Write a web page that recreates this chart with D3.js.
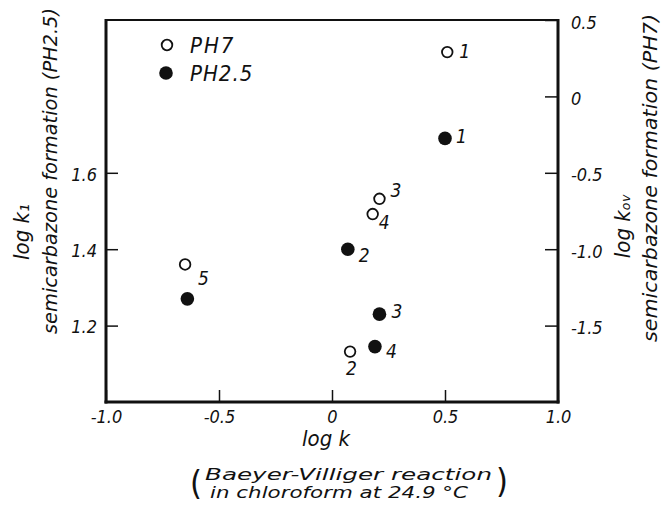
<!DOCTYPE html>
<html>
<head>
<meta charset="utf-8">
<script src="https://cdn.jsdelivr.net/npm/d3@7"></script>
<style>
  html, body { margin: 0; padding: 0; background: #fff; }
  svg { display: block; }
  text { font-family: "DejaVu Sans Condensed", "Liberation Sans Narrow", "Liberation Sans", sans-serif; font-style: italic; fill: #111; }
</style>
</head>
<body>
<svg id="chart" width="665" height="505"></svg>
<script>
// ---- data ----
const compounds = ["1", "2", "3", "4", "5"];
// pH 7 (open circles), read against right axis (log k_ov)
const logK_pH7 = [0.51, 0.08, 0.21, 0.18, -0.65];
const logKov_pH7 = [0.29, -1.67, -0.67, -0.77, -1.10];
const labels_pH7 = ["1", "2", "3", "4", "5"];
// pH 2.5 (filled circles), read against left axis (log k1)
const logK_pH25 = [0.50, 0.07, 0.21, 0.19, -0.64];
const logK1_pH25 = [1.69, 1.40, 1.23, 1.145, 1.27];
const labels_pH25 = ["1", "2", "3", "4", ""];

const xTicks = [-1.0, -0.5, 0, 0.5, 1.0];
const xTickLabels = ["-1.0", "-0.5", "0", "0.5", "1.0"];
const leftTicks = [1.2, 1.4, 1.6];
const leftTickLabels = ["1.2", "1.4", "1.6"];
const rightTicks = [0.5, 0, -0.5, -1.0, -1.5];
const rightTickLabels = ["0.5", "0", "-0.5", "-1.0", "-1.5"];

const legendNames = ["PH7", "PH2.5"];

// ---- layout / style (not data) ----
const L = 106, R = 558, T = 20, B = 402;
const svg = d3.select("#chart");

const x = d3.scaleLinear().domain([-1, 1]).range([L, R]);
const yL = d3.scaleLinear().domain([1.0, 2.0]).range([B, T]);
const yR = d3.scaleLinear().domain([-2.0, 0.5]).range([B, T]);

// label offsets (dx, dy) relative to marker centre
const offs7 = [[12, 6], [-4, 23], [11, -2], [6, 15], [13, 21]];
const offs25 = [[11, 5], [11, 13], [12, 4], [11, 11], [0, 0]];

// axes
const axL = svg.append("g").attr("transform", `translate(${L},0)`)
  .call(d3.axisLeft(yL).tickValues(leftTicks).tickSize(-12).tickPadding(9)
    .tickFormat((d, i) => leftTickLabels[i]));
const axR = svg.append("g").attr("transform", `translate(${R},0)`)
  .call(d3.axisRight(yR).tickValues(rightTicks).tickSize(-13).tickPadding(13)
    .tickFormat((d, i) => rightTickLabels[i]));
const axB = svg.append("g").attr("transform", `translate(0,${B})`)
  .call(d3.axisBottom(x).tickValues(xTicks).tickSize(-12).tickPadding(8)
    .tickFormat((d, i) => xTickLabels[i]));

[axL, axR, axB].forEach(g => {
  g.select(".domain").remove();
  g.attr("font-family", null).attr("font-size", null);
  g.selectAll(".tick line").attr("stroke", "#111").attr("stroke-width", 1.5);
  g.selectAll(".tick text").attr("font-size", 18).attr("fill", "#111");
});
axR.selectAll(".tick text").attr("dy", "0.45em");
axL.selectAll(".tick text").attr("dy", "0.4em");

// frame
svg.append("line").attr("x1", L).attr("x2", R).attr("y1", T).attr("y2", T)
  .attr("stroke", "#111").attr("stroke-width", 2);
svg.append("line").attr("x1", L).attr("x2", L).attr("y1", T - 1).attr("y2", B + 1.5)
  .attr("stroke", "#111").attr("stroke-width", 3);
svg.append("line").attr("x1", R).attr("x2", R).attr("y1", T - 1).attr("y2", B + 1.5)
  .attr("stroke", "#111").attr("stroke-width", 3);
svg.append("line").attr("x1", L - 1.5).attr("x2", R + 1.5).attr("y1", B).attr("y2", B)
  .attr("stroke", "#111").attr("stroke-width", 3);

// points pH7 (open)
const g7 = svg.append("g");
g7.selectAll("circle").data(compounds).join("circle")
  .attr("cx", (d, i) => x(logK_pH7[i]))
  .attr("cy", (d, i) => yR(logKov_pH7[i]))
  .attr("r", 5.3).attr("fill", "#fff").attr("stroke", "#111").attr("stroke-width", 1.8);
g7.selectAll("text").data(compounds).join("text")
  .attr("x", (d, i) => x(logK_pH7[i]) + offs7[i][0])
  .attr("y", (d, i) => yR(logKov_pH7[i]) + offs7[i][1])
  .attr("font-size", 19)
  .text((d, i) => labels_pH7[i]);

// points pH2.5 (filled)
const g25 = svg.append("g");
g25.selectAll("circle").data(compounds).join("circle")
  .attr("cx", (d, i) => x(logK_pH25[i]))
  .attr("cy", (d, i) => yL(logK1_pH25[i]))
  .attr("r", 6.8).attr("fill", "#111");
g25.selectAll("text").data(compounds).join("text")
  .attr("x", (d, i) => x(logK_pH25[i]) + offs25[i][0])
  .attr("y", (d, i) => yL(logK1_pH25[i]) + offs25[i][1])
  .attr("font-size", 19)
  .text((d, i) => labels_pH25[i]);

// legend
const leg = svg.append("g");
leg.append("circle").attr("cx", 167).attr("cy", 45).attr("r", 5.3)
  .attr("fill", "#fff").attr("stroke", "#111").attr("stroke-width", 1.8);
leg.append("circle").attr("cx", 166).attr("cy", 73).attr("r", 6.8).attr("fill", "#111");
leg.append("text").attr("x", 190).attr("y", 53).attr("font-size", 22)
  .attr("letter-spacing", 2).text(legendNames[0]);
leg.append("text").attr("x", 190).attr("y", 81).attr("font-size", 22)
  .attr("letter-spacing", 1).text(legendNames[1]);

// left axis titles
svg.append("text").attr("transform", "translate(29,232) rotate(-90)")
  .attr("text-anchor", "middle").attr("font-size", 22).text("log k\u2081");
svg.append("text").attr("transform", "translate(57,171) rotate(-90)")
  .attr("text-anchor", "middle").attr("font-size", 19)
  .attr("textLength", 326).attr("lengthAdjust", "spacingAndGlyphs")
  .text("semicarbazone formation (PH2.5)");

// right axis titles
svg.append("text").attr("transform", "translate(630,226) rotate(-90)")
  .attr("text-anchor", "middle").attr("font-size", 22).text("log k\u2092\u1d65");
svg.append("text").attr("transform", "translate(657,178) rotate(-90)")
  .attr("text-anchor", "middle").attr("font-size", 19)
  .attr("textLength", 328).attr("lengthAdjust", "spacingAndGlyphs")
  .text("semicarbazone formation (PH7)");

// bottom titles
svg.append("text").attr("x", 326).attr("y", 446).attr("text-anchor", "middle")
  .attr("font-size", 22).text("log k");
svg.append("text").attr("x", 205).attr("y", 480).attr("font-size", 15.5)
  .attr("textLength", 287).attr("lengthAdjust", "spacingAndGlyphs")
  .text("Baeyer-Villiger reaction");
svg.append("text").attr("x", 210).attr("y", 498).attr("font-size", 15.5)
  .attr("textLength", 258).attr("lengthAdjust", "spacingAndGlyphs")
  .text("in chloroform at 24.9 °C");
svg.append("text").attr("x", 190).attr("y", 495).attr("font-size", 34)
  .style("font-style", "normal").text("(");
svg.append("text").attr("x", 496).attr("y", 493).attr("font-size", 34)
  .style("font-style", "normal").text(")");
</script>
</body>
</html>
